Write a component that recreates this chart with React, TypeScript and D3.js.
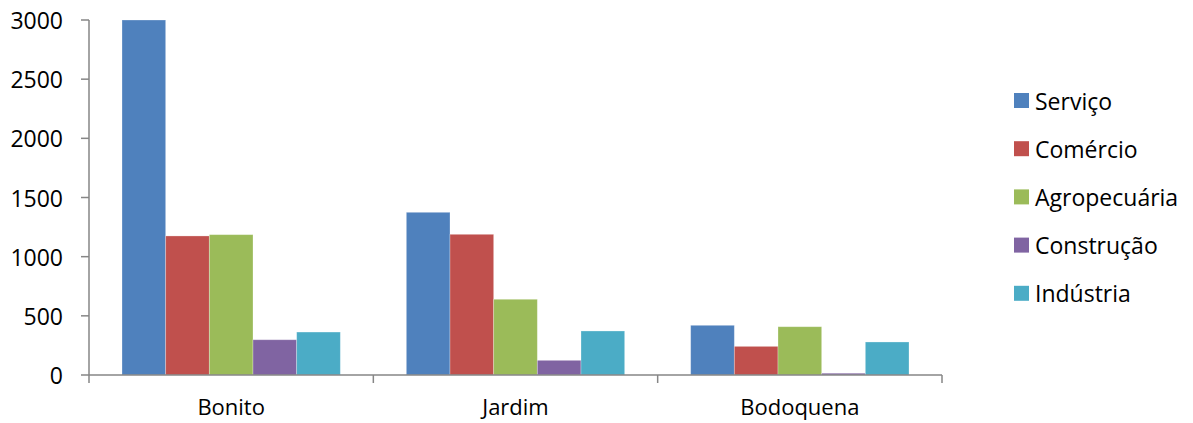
import React from "react";
import * as d3 from "d3";

const categories = ["Bonito", "Jardim", "Bodoquena"];
const seriesNames = ["Serviço", "Comércio", "Agropecuária", "Construção", "Indústria"];
const servico = [3000, 1375, 420];
const comercio = [1175, 1189, 242];
const agropecuaria = [1186, 640, 408];
const construcao = [298, 124, 15];
const industria = [363, 372, 279];
const yTicks = [0, 500, 1000, 1500, 2000, 2500, 3000];
const colors = ["#4F81BD", "#C0504D", "#9BBB59", "#8064A2", "#4BACC6"];

const seriesValues = [servico, comercio, agropecuaria, construcao, industria];

const W = 1193;
const H = 423;
const left = 89;
const right = 942;
const top = 20;
const bottom = 375;
const font = "'Open Sans', 'Noto Sans', sans-serif";
const axisColor = "#868686";
const fs = 23;

export default function App() {
  const x0 = d3.scaleBand<string>().domain(categories).range([left, right]).paddingInner(0).paddingOuter(0);
  const inner = d3
    .scaleBand<string>()
    .domain(seriesNames)
    .range([33, x0.bandwidth() - 33])
    .padding(0);
  const y = d3.scaleLinear().domain([0, 3000]).range([bottom, top]);

  const catTicks = [...categories.map((c) => x0(c) as number), right];

  return (
    <div style={{ position: "absolute", left: 0, top: 0 }}>
      <svg width={W} height={H} style={{ display: "block", background: "#fff" }}>
        {categories.map((c, ci) => (
          <g key={c}>
            {seriesNames.map((s, si) => {
              const v = seriesValues[si][ci];
              const bx = (x0(c) as number) + (inner(s) as number);
              return (
                <rect
                  key={s}
                  x={bx}
                  y={y(v)}
                  width={inner.bandwidth()}
                  height={bottom - y(v)}
                  fill={colors[si]}
                  stroke="#ffffff"
                  strokeOpacity={0.35}
                  strokeWidth={0.8}
                />
              );
            })}
          </g>
        ))}
        <line x1={left} x2={left} y1={top} y2={bottom} stroke={axisColor} strokeWidth={1.5} />
        {yTicks.map((t) => (
          <g key={t}>
            <line x1={left - 8} x2={left} y1={y(t)} y2={y(t)} stroke={axisColor} strokeWidth={1.5} />
            <text
              x={63}
              y={y(t)}
              textAnchor="end"
              dominantBaseline="central"
              fontFamily={font}
              fontSize={fs}
              fill="#000"
            >
              {t}
            </text>
          </g>
        ))}
        <line x1={left} x2={right} y1={bottom} y2={bottom} stroke={axisColor} strokeWidth={1.5} />
        {catTicks.map((tx, i) => (
          <line key={i} x1={tx} x2={tx} y1={bottom} y2={bottom + 8} stroke={axisColor} strokeWidth={1.5} />
        ))}
        {categories.map((c) => (
          <text
            key={c}
            x={(x0(c) as number) + x0.bandwidth() / 2}
            y={415}
            textAnchor="middle"
            fontFamily={font}
            fontSize={22}
            fill="#000"
          >
            {c}
          </text>
        ))}
        {seriesNames.map((s, i) => {
          const cy = 100.5 + i * 48.2;
          return (
            <g key={s}>
              <rect x={1014} y={cy - 7.5} width={15} height={15} fill={colors[i]} />
              <text x={1035} y={cy} dominantBaseline="central" fontFamily={font} fontSize={fs} fill="#000">
                {s}
              </text>
            </g>
          );
        })}
      </svg>
    </div>
  );
}
